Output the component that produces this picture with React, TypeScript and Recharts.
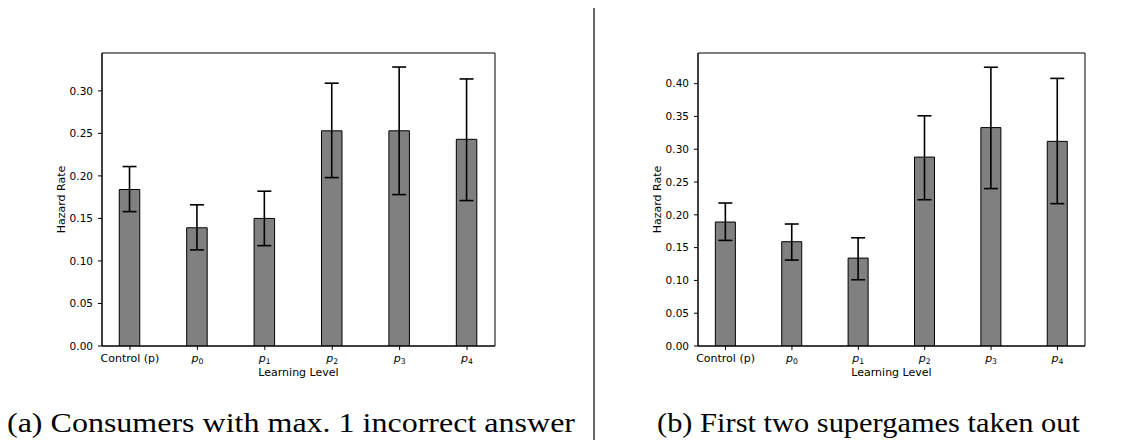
import React from 'react';
import { ComposedChart, Bar, XAxis, YAxis, ErrorBar, ReferenceArea } from 'recharts';

// ---- data ----
const categories = ['Control (p)', 'p0', 'p1', 'p2', 'p3', 'p4'];
const tickBase = ['Control (p)', 'p', 'p', 'p', 'p', 'p'];
const tickSub = ['', '0', '1', '2', '3', '4'];
const positions = [0, 1, 2, 3, 4, 5];

const leftMeans = [0.184, 0.139, 0.150, 0.253, 0.253, 0.243];
const leftLows = [0.158, 0.113, 0.118, 0.198, 0.178, 0.171];
const leftHighs = [0.211, 0.166, 0.182, 0.309, 0.328, 0.314];

const rightMeans = [0.189, 0.159, 0.134, 0.288, 0.333, 0.312];
const rightLows = [0.161, 0.131, 0.101, 0.223, 0.240, 0.217];
const rightHighs = [0.218, 0.186, 0.165, 0.351, 0.425, 0.408];

const leftYTicks = [0, 0.05, 0.1, 0.15, 0.2, 0.25, 0.3];
const rightYTicks = [0, 0.05, 0.1, 0.15, 0.2, 0.25, 0.3, 0.35, 0.4];
const leftYDomain = [0, 0.3445];
const rightYDomain = [0, 0.4467];
const xDomain = [-0.415, 5.415];

const captionA = '(a) Consumers with max. 1 incorrect answer';
const captionB = '(b) First two supergames taken out';
const xLabel = 'Learning Level';
const yLabel = 'Hazard Rate';

function buildRows(means: number[], lows: number[], highs: number[]) {
  return positions.map((x, i) => ({
    x,
    name: categories[i],
    mean: means[i],
    err: [means[i] - lows[i], highs[i] - means[i]],
  }));
}

const leftRows = buildRows(leftMeans, leftLows, leftHighs);
const rightRows = buildRows(rightMeans, rightLows, rightHighs);

const FONT = 'DejaVu Sans';

const XTick = (props: any) => {
  const { x, y, payload } = props;
  const i = Math.round(payload.value);
  const sub = tickSub[i];
  return (
    <text x={x} y={y} dy="0.71em" textAnchor="middle" fontFamily={FONT} fontSize={11} fill="#000">
      {sub ? (
        <>
          <tspan fontStyle="italic">{tickBase[i]}</tspan>
          <tspan fontSize={7.7} dy={2.5}>{sub}</tspan>
        </>
      ) : (
        tickBase[i]
      )}
    </text>
  );
};

type PanelProps = {
  rows: any[];
  yDomain: number[];
  yTicks: number[];
  left: number;
  width: number;
  marginLeft: number;
  marginRight: number;
  barSize: number;
};

const Panel = ({ rows, yDomain, yTicks, left, width, marginLeft, marginRight, barSize }: PanelProps) => (
  <div style={{ position: 'absolute', left, top: 0 }}>
    <ComposedChart
      width={width}
      height={400}
      data={rows}
      margin={{ top: 53, right: marginRight, bottom: 18, left: marginLeft }}
    >
      <XAxis
        dataKey="x"
        type="number"
        domain={xDomain}
        ticks={positions}
        allowDataOverflow
        height={36}
        tickSize={4}
        tickMargin={4}
        tickLine={{ stroke: '#000', strokeWidth: 1 }}
        axisLine={{ stroke: '#000', strokeWidth: 1 }}
        tick={<XTick />}
        interval={0}
        label={{ value: xLabel, position: 'insideBottom', offset: 6, fontFamily: FONT, fontSize: 11, fill: '#000' }}
      />
      <YAxis
        type="number"
        domain={yDomain}
        ticks={yTicks}
        allowDataOverflow
        width={82}
        tickSize={4}
        tickMargin={5}
        tickLine={{ stroke: '#000', strokeWidth: 1 }}
        axisLine={{ stroke: '#000', strokeWidth: 1 }}
        tick={{ fontFamily: FONT, fontSize: 10.5, fill: '#000' }}
        tickFormatter={(v: number) => v.toFixed(2)}
        label={{ value: yLabel, angle: -90, position: 'center', fontFamily: FONT, fontSize: 11, fill: '#000' }}
      />
      <ReferenceArea
        x1={xDomain[0]}
        x2={xDomain[1]}
        y1={yDomain[0]}
        y2={yDomain[1]}
        fill="none"
        fillOpacity={0}
        stroke="#000"
        strokeWidth={1}
        strokeOpacity={1}
        ifOverflow="visible"
      />
      <Bar
        dataKey="mean"
        fill="#808080"
        stroke="#000"
        strokeWidth={1}
        barSize={barSize}
        isAnimationActive={false}
      >
        <ErrorBar dataKey="err" direction="y" width={7} stroke="#000" strokeWidth={1.6} />
      </Bar>
    </ComposedChart>
  </div>
);

export default function App() {
  return (
    <div style={{ position: 'absolute', left: 0, top: 0, width: 1121, height: 442, background: '#fff', overflow: 'hidden' }}>
      <Panel rows={leftRows} yDomain={leftYDomain} yTicks={leftYTicks} left={0} width={560} marginLeft={20} marginRight={65} barSize={20.5} />
      <Panel rows={rightRows} yDomain={rightYDomain} yTicks={rightYTicks} left={560} width={561} marginLeft={56} marginRight={36} barSize={20} />
      <svg width={1121} height={442} style={{ position: 'absolute', left: 0, top: 0, pointerEvents: 'none' }}>
        <line x1={594} y1={8} x2={594} y2={440} stroke="#000" strokeWidth={1.2} />
        <text x={7} y={432} fontFamily="Liberation Serif" fontSize={27} fill="#000" textLength={568} lengthAdjust="spacingAndGlyphs">
          {captionA}
        </text>
        <text x={657} y={432} fontFamily="Liberation Serif" fontSize={27} fill="#000" textLength={423} lengthAdjust="spacingAndGlyphs">
          {captionB}
        </text>
      </svg>
    </div>
  );
}
